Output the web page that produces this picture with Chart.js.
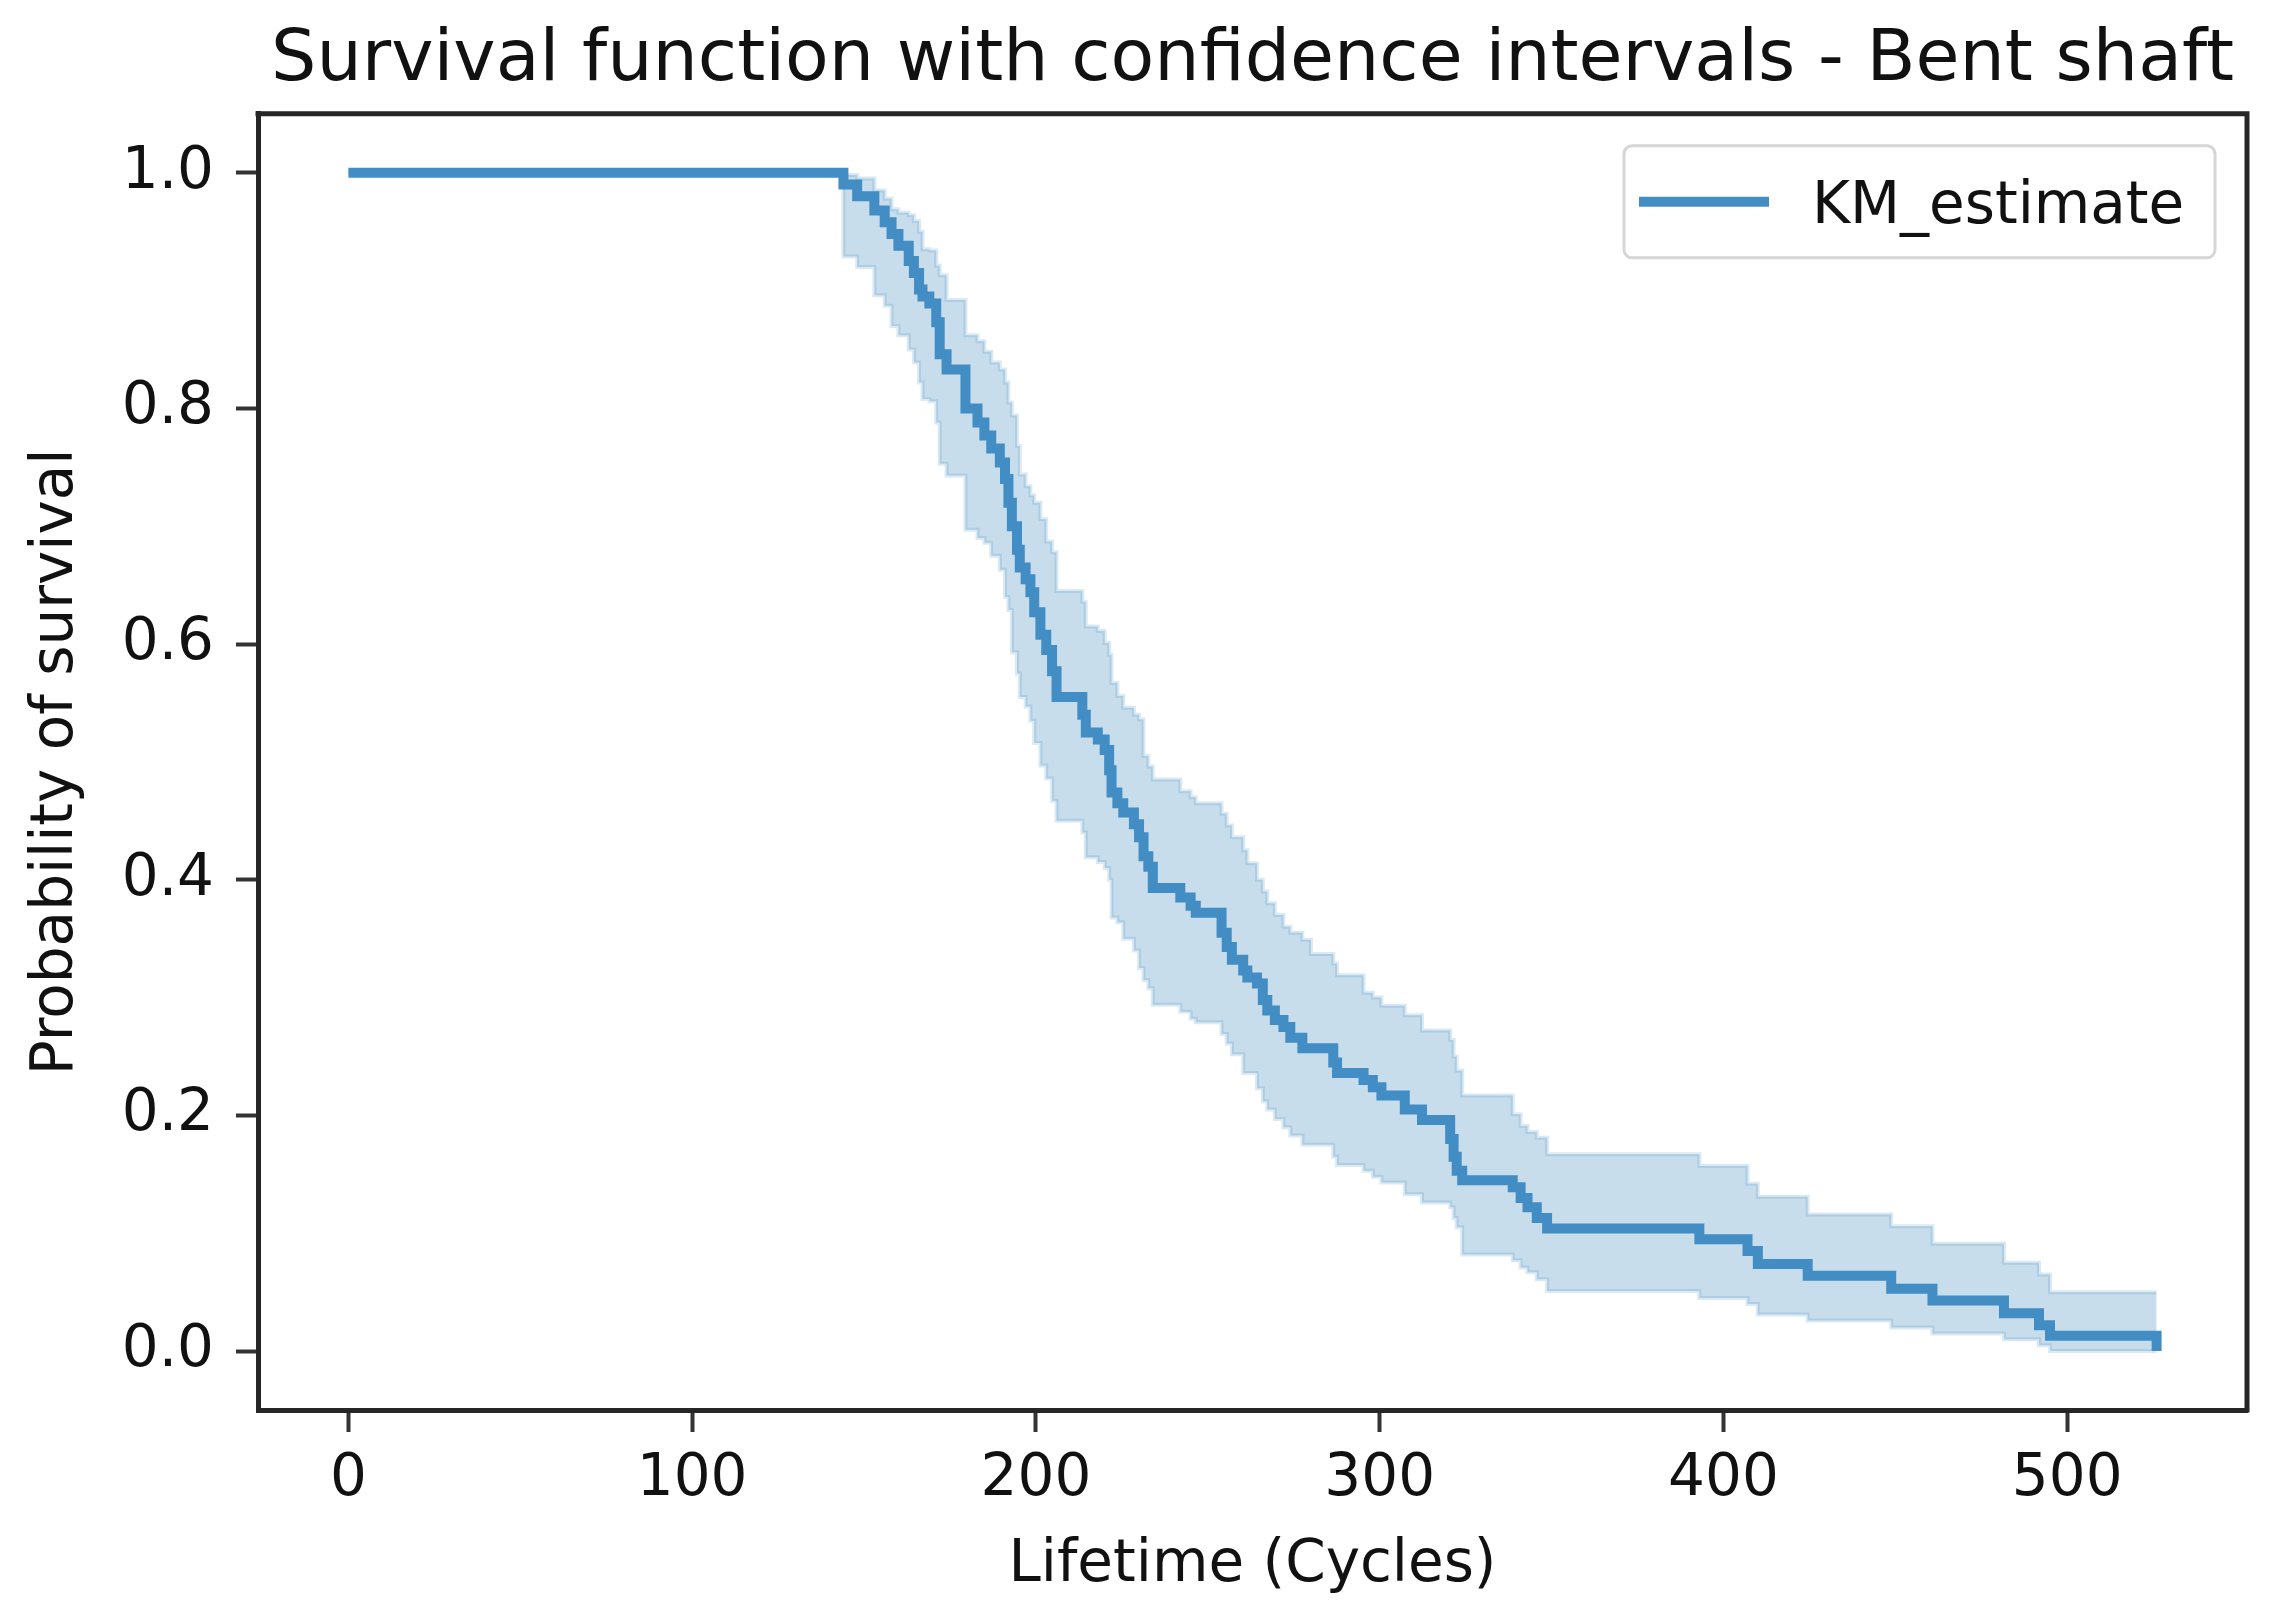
<!DOCTYPE html>
<html>
<head>
<meta charset="utf-8">
<script src="https://cdn.jsdelivr.net/npm/chart.js@4.4.1/dist/chart.umd.min.js"></script>
<style>
html,body{margin:0;padding:0;background:#ffffff;}
#wrap{width:2270px;height:1618px;}
</style>
</head>
<body>
<div id="wrap"><canvas id="c" width="2270" height="1618"></canvas></div>
<script>
// ---- data ----
const times = [
  0, 144, 148, 153, 156, 158, 160, 163, 164.5, 166,
  167, 169, 171, 172, 174, 179.5, 183, 185, 187, 189.5,
  191, 192, 193, 194.5, 195.3, 197, 198.4, 199.5, 201.3, 203,
  204.7, 206, 213.5, 214.5, 218, 220, 221.3, 222, 223.7, 225.4,
  228.5, 230, 231.3, 232.7, 234, 242, 245, 246.5, 254, 255.5,
  257, 260.3, 261.5, 264.3, 266, 267.3, 269.5, 272, 274, 277.5,
  280, 286.5, 287.6, 295.3, 298, 300.5, 307.3, 312.3, 320.5, 321.5,
  322.4, 324, 338.7, 341, 343, 345.7, 348.7, 393, 407, 410,
  424.5, 448.8, 460.8, 481.6, 491.8, 495, 526
];
const kmEstimate = [
  1.000, 0.990, 0.980, 0.968, 0.958, 0.948, 0.938, 0.925, 0.915, 0.901,
  0.895, 0.889, 0.873, 0.846, 0.833, 0.800, 0.788, 0.777, 0.766, 0.754,
  0.740, 0.720, 0.700, 0.680, 0.665, 0.655, 0.644, 0.627, 0.608, 0.595,
  0.577, 0.555, 0.540, 0.525, 0.519, 0.510, 0.493, 0.474, 0.465, 0.457,
  0.447, 0.436, 0.420, 0.411, 0.393, 0.385, 0.378, 0.372, 0.355, 0.343,
  0.332, 0.323, 0.317, 0.312, 0.298, 0.289, 0.281, 0.275, 0.266, 0.257,
  0.257, 0.245, 0.236, 0.230, 0.224, 0.217, 0.205, 0.196, 0.180, 0.165,
  0.153, 0.145, 0.139, 0.130, 0.122, 0.113, 0.104, 0.095, 0.085, 0.074,
  0.064, 0.053, 0.043, 0.032, 0.022, 0.013, 0.000
];
const ciUpper = [
  1.000, 0.998, 0.995, 0.985, 0.978, 0.969, 0.966, 0.964, 0.959, 0.950,
  0.935, 0.934, 0.921, 0.913, 0.892, 0.862, 0.857, 0.848, 0.839, 0.833,
  0.822, 0.805, 0.794, 0.768, 0.744, 0.734, 0.726, 0.720, 0.706, 0.687,
  0.678, 0.645, 0.636, 0.615, 0.611, 0.601, 0.591, 0.567, 0.556, 0.546,
  0.540, 0.536, 0.505, 0.496, 0.485, 0.475, 0.470, 0.465, 0.456, 0.446,
  0.436, 0.425, 0.414, 0.400, 0.390, 0.380, 0.370, 0.360, 0.355, 0.349,
  0.337, 0.329, 0.319, 0.304, 0.300, 0.293, 0.285, 0.272, 0.264, 0.250,
  0.238, 0.217, 0.201, 0.191, 0.186, 0.181, 0.167, 0.157, 0.142, 0.131,
  0.116, 0.106, 0.091, 0.075, 0.065, 0.050, 0.050
];
const ciLower = [
  1.000, 0.929, 0.920, 0.896, 0.887, 0.870, 0.862, 0.850, 0.839, 0.822,
  0.808, 0.806, 0.788, 0.753, 0.743, 0.697, 0.690, 0.686, 0.675, 0.663,
  0.640, 0.629, 0.593, 0.575, 0.555, 0.547, 0.535, 0.516, 0.497, 0.486,
  0.467, 0.450, 0.440, 0.419, 0.415, 0.410, 0.400, 0.368, 0.364, 0.350,
  0.340, 0.325, 0.315, 0.308, 0.294, 0.288, 0.282, 0.279, 0.269, 0.261,
  0.252, 0.236, 0.236, 0.223, 0.212, 0.205, 0.197, 0.190, 0.183, 0.175,
  0.175, 0.165, 0.158, 0.153, 0.148, 0.143, 0.133, 0.126, 0.122, 0.113,
  0.105, 0.082, 0.077, 0.071, 0.067, 0.061, 0.051, 0.045, 0.040, 0.031,
  0.026, 0.020, 0.015, 0.010, 0.005, 0.000, 0.000
];
const xTicks = [0, 100, 200, 300, 400, 500];
const yTicks = [0.0, 0.2, 0.4, 0.6, 0.8, 1.0];
const titleText = 'Survival function with confidence intervals - Bent shaft';
const xLabel = 'Lifetime (Cycles)';
const yLabel = 'Probability of survival';
const seriesLabel = 'KM_estimate';

// ---- styling ----
const lineColor = 'rgb(66,141,196)';
const bandFill = 'rgba(31,119,180,0.25)';
const bandEdge = 'rgba(31,119,180,0.16)';
const spineColor = '#262626';
const textColor = '#111111';

Chart.defaults.font.family = "'DejaVu Sans', sans-serif";
Chart.defaults.color = textColor;

const toPoints = arr => times.map((t, i) => ({x: t, y: arr[i]}));

const frame = {
  id: 'frame',
  afterDatasetsDraw(chart) {
    const {ctx, chartArea: a} = chart;
    ctx.save();
    ctx.strokeStyle = spineColor;
    ctx.lineWidth = 5;
    ctx.beginPath();
    ctx.moveTo(a.left - 2.5, a.top);
    ctx.lineTo(a.right, a.top);
    ctx.lineTo(a.right, a.bottom + 2.5);
    ctx.stroke();
    ctx.restore();
  }
};

const legendBox = {
  id: 'legendBox',
  afterDraw(chart) {
    const {ctx, chartArea: a} = chart;
    const w = 591, h = 112;
    const x = a.right - 32 - w, y = a.top + 32;
    ctx.save();
    ctx.beginPath();
    ctx.roundRect(x, y, w, h, 8);
    ctx.fillStyle = 'rgba(255,255,255,0.8)';
    ctx.fill();
    ctx.strokeStyle = '#d6d6d6';
    ctx.lineWidth = 3;
    ctx.stroke();
    ctx.strokeStyle = lineColor;
    ctx.lineWidth = 10;
    ctx.beginPath();
    ctx.moveTo(x + 15, y + 56);
    ctx.lineTo(x + 145, y + 56);
    ctx.stroke();
    ctx.fillStyle = textColor;
    ctx.font = "58px 'DejaVu Sans'";
    ctx.textBaseline = 'middle';
    ctx.textAlign = 'left';
    ctx.fillText(chart.data.datasets[0].label, x + 188, y + 62);
    ctx.restore();
  }
};

new Chart(document.getElementById('c'), {
  type: 'line',
  data: {
    datasets: [
      {
        label: seriesLabel,
        data: toPoints(kmEstimate),
        stepped: true,
        borderColor: lineColor,
        borderWidth: 10,
        pointRadius: 0,
        fill: false,
        borderCapStyle: 'butt',
        borderJoinStyle: 'miter'
      },
      {
        label: 'upper',
        data: toPoints(ciUpper),
        stepped: true,
        borderColor: bandEdge,
        borderWidth: 4,
        pointRadius: 0,
        fill: '+1',
        backgroundColor: bandFill
      },
      {
        label: 'lower',
        data: toPoints(ciLower),
        stepped: true,
        borderColor: bandEdge,
        borderWidth: 4,
        pointRadius: 0,
        fill: false
      }
    ]
  },
  options: {
    responsive: false,
    devicePixelRatio: 1,
    animation: false,
    events: [],
    layout: {padding: {left: 0, right: 23, top: 0, bottom: 0}},
    plugins: {
      legend: {display: false},
      tooltip: {enabled: false},
      title: {
        display: true,
        text: titleText,
        fullSize: false,
        color: textColor,
        font: {size: 71.5, weight: 'normal'},
        padding: {top: 19, bottom: 9}
      }
    },
    scales: {
      x: {
        type: 'linear',
        min: -26.3,
        max: 552.3,
        afterBuildTicks: s => { s.ticks = xTicks.map(v => ({value: v})); },
        afterFit: s => { s.height = 208; },
        ticks: {
          font: {size: 58},
          color: textColor,
          padding: 13,
          maxRotation: 0,
          autoSkip: false,
          callback: v => String(v)
        },
        grid: {drawOnChartArea: false, drawTicks: true, tickLength: 22, tickWidth: 4, tickColor: '#333333'},
        border: {display: true, color: spineColor, width: 5},
        title: {display: true, text: xLabel, color: textColor, font: {size: 58}, padding: {top: 0, bottom: 17}}
      },
      y: {
        type: 'linear',
        min: -0.05,
        max: 1.05,
        afterBuildTicks: s => { s.ticks = yTicks.map(v => ({value: v})); },
        afterFit: s => { s.width = 258; },
        ticks: {
          font: {size: 58},
          color: textColor,
          padding: 22,
          autoSkip: false,
          callback: v => Number(v).toFixed(1)
        },
        grid: {drawOnChartArea: false, drawTicks: true, tickLength: 22, tickWidth: 4, tickColor: '#333333'},
        border: {display: true, color: spineColor, width: 5},
        title: {display: true, text: yLabel, color: textColor, font: {size: 58}, padding: {top: 22, bottom: 0}}
      }
    }
  },
  plugins: [frame, legendBox]
});
</script>
</body>
</html>
